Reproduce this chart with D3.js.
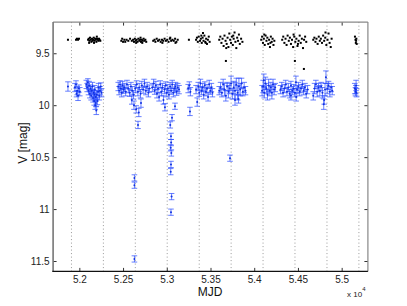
<!DOCTYPE html>
<html><head><meta charset="utf-8">
<script src="https://cdn.jsdelivr.net/npm/d3@7"></script>
<style>body{margin:0;background:#fff}svg{display:block}</style>
</head><body>
<script>
// ---- data ----
const xTicks = [52000, 52500, 53000, 53500, 54000, 54500, 55000];
const xTickLabels = ["5.2", "5.25", "5.3", "5.35", "5.4", "5.45", "5.5"];
const yTicks = [9.5, 10, 10.5, 11, 11.5];
const yTickLabels = ["9.5", "10", "10.5", "11", "11.5"];
const yearStarts = [51910, 52275, 52640, 53005, 53371, 53736, 54101, 54466, 54832, 55197];

const blackMJD = [51870,51962,51973,51985,51996,
 52100,52108,52115,52122,52130,52138,52145,52150,52158,52165,52172,52180,52188,52195,52202,52210,52218,52225,52232,52240,52112,52168,52200,
 52480,52490,52500,52515,52525,52540,52560,52580,52600,52615,52625,52635,52645,52655,52665,52675,52685,52695,52705,52715,52725,52735,52745,52755,52765,52650,52700,52720,
 52845,52860,52870,52885,52900,52915,52930,52945,52960,52975,52990,53005,53020,53035,53050,53065,53080,53095,53110,53125,52950,53040,53100,
 53253,
 53335,53345,53355,53365,53380,53390,53400,53410,53420,53430,53440,53450,53460,53470,53480,53490,53414,53445,53395,
 53600,53612,53625,53638,53650,53660,53672,53685,53695,53705,53715,53725,53735,53745,53755,53765,53775,53785,53795,53805,53815,53825,53835,53850,53865,53680,53760,53676,
 54080,54090,54100,54110,54120,54130,54140,54150,54160,54170,54180,54190,54200,54210,54220,54230,54115,54185,
 54320,54332,54345,54358,54370,54382,54395,54408,54420,54432,54445,54458,54470,54482,54495,54508,54520,54532,54545,54558,54570,54582,54595,54450,54500,54465,54568,
 54675,54688,54700,54712,54725,54738,54750,54762,54775,54788,54800,54812,54825,54838,54850,54862,54875,54885,54815,
 55152,55158,55162,55168,55172,55165];
const blackV = [9.37,9.37,9.36,9.37,9.36,
 9.37,9.36,9.38,9.35,9.37,9.39,9.36,9.38,9.37,9.35,9.38,9.36,9.37,9.39,9.36,9.37,9.38,9.36,9.37,9.38,9.40,9.40,9.34,
 9.38,9.36,9.39,9.37,9.39,9.37,9.38,9.36,9.38,9.37,9.39,9.36,9.38,9.37,9.39,9.36,9.38,9.37,9.39,9.37,9.38,9.36,9.38,9.37,9.39,9.40,9.35,9.40,
 9.38,9.37,9.39,9.36,9.38,9.37,9.39,9.37,9.38,9.36,9.38,9.37,9.39,9.36,9.38,9.37,9.38,9.36,9.39,9.37,9.40,9.35,9.40,
 9.37,
 9.37,9.35,9.39,9.34,9.38,9.36,9.40,9.35,9.38,9.33,9.39,9.36,9.41,9.37,9.34,9.39,9.305,9.40,9.33,
 9.37,9.34,9.40,9.36,9.43,9.33,9.38,9.41,9.35,9.44,9.31,9.37,9.40,9.34,9.42,9.36,9.30,9.39,9.45,9.35,9.38,9.32,9.41,9.36,9.39,9.45,9.33,9.574,
 9.37,9.34,9.40,9.36,9.42,9.33,9.38,9.35,9.41,9.37,9.44,9.34,9.39,9.36,9.42,9.38,9.32,9.40,
 9.37,9.34,9.40,9.36,9.42,9.33,9.38,9.35,9.41,9.37,9.44,9.34,9.39,9.36,9.43,9.38,9.33,9.40,9.36,9.45,9.37,9.34,9.39,9.32,9.41,9.574,9.651,
 9.37,9.35,9.39,9.36,9.41,9.34,9.38,9.36,9.40,9.33,9.38,9.35,9.42,9.37,9.31,9.40,9.44,9.36,9.30,
 9.34,9.37,9.40,9.36,9.41,9.38];

const blueMJD = [51870,51950,51962,51975,51985,51995,52005,51968,
 52080,52090,52098,52105,52112,52120,52128,52135,52142,52150,52157,52163,52170,52176,52182,52188,52194,52200,52207,52214,52220,52228,52236,52245,52255,52190,52175,
 52445,52455,52465,52475,52485,52495,52505,52515,52530,52545,52560,52575,52590,52605,52620,52640,52655,52670,52685,52700,52715,52730,52745,52760,52775,52790,52800,
 52600,52625,52650,52680,52705,52671,52630,52630,52630,
 52835,52850,52862,52875,52888,52900,52912,52925,52938,52950,52962,52975,52988,53000,53012,53025,53038,53050,53062,53075,53088,53100,53112,53125,53140,
 52979,53094,53060,53040,53048,53050,53045,53052,53048,53045,53055,53048,
 53245,53258,53270,53265,53335,53348,53360,53372,53385,53398,53410,53422,53435,53448,53460,53472,53485,53498,53510,53522,
 53600,53615,53630,53645,53660,53675,53690,53705,53720,53735,53750,53765,53780,53795,53810,53825,53840,53855,53870,53885,53900,53723,53780,53820,
 54090,54102,54115,54128,54140,54152,54165,54178,54190,54202,54215,54228,54240,54110,
 54300,54315,54330,54345,54360,54375,54390,54405,54420,54435,54450,54465,54477,54490,54505,54520,54535,54550,54565,54580,54595,54610,54480,54420,
 54675,54690,54705,54720,54735,54750,54765,54780,54795,54800,54810,54820,54835,54850,54865,54880,54892,
 55150,55158,55165,55170,55162];
const blueV = [9.82,9.83,9.80,9.86,9.91,9.84,9.87,9.89,
 9.80,9.83,9.78,9.86,9.81,9.89,9.84,9.91,9.86,9.82,9.93,9.88,9.96,9.85,10.00,9.92,10.05,9.90,9.96,9.87,9.83,9.91,9.86,9.82,9.88,9.98,9.90,
 9.82,9.86,9.80,9.84,9.88,9.81,9.85,9.83,9.87,9.80,9.84,9.88,9.82,9.86,9.90,9.84,9.80,9.87,9.83,9.89,9.81,9.85,9.79,9.86,9.82,9.88,9.84,
 9.95,10.00,10.04,10.07,9.98,10.19,10.70,10.77,11.48,
 9.83,9.79,9.86,9.81,9.89,9.84,9.92,9.80,9.87,9.83,9.95,9.85,9.81,9.88,9.84,9.90,9.82,9.86,9.80,9.88,9.84,9.82,9.87,9.83,9.85,
 10.02,10.01,10.12,10.19,10.30,10.36,10.41,10.46,10.57,10.64,10.88,11.03,
 9.84,9.81,9.87,10.06,9.85,9.97,9.82,9.88,9.79,9.86,9.83,9.90,9.81,9.87,9.84,9.92,9.80,9.86,9.83,9.88,
 9.86,9.83,9.88,9.80,9.85,9.91,9.82,9.87,9.84,9.79,9.89,9.83,9.86,9.80,9.88,9.82,9.85,9.79,9.87,9.83,9.86,10.51,9.95,9.94,
 9.86,9.82,9.88,9.79,9.84,9.90,9.81,9.86,9.83,9.88,9.80,9.85,9.83,9.76,
 9.85,9.82,9.88,9.84,9.80,9.87,9.83,9.89,9.81,9.86,9.84,9.88,9.78,9.85,9.82,9.87,9.84,9.80,9.86,9.83,9.89,9.85,9.92,9.91,
 9.91,9.84,9.80,9.87,9.83,9.86,9.82,9.88,9.99,9.95,9.85,9.73,9.84,9.81,9.87,9.83,9.86,
 9.84,9.87,9.81,9.88,9.85];
const blueErr = [0.045,0.04,0.035,0.04,0.045,0.035,0.04,0.03,
 0.04,0.04,0.035,0.04,0.04,0.04,0.035,0.04,0.04,0.04,0.04,0.035,0.04,0.04,0.04,0.04,0.04,0.04,0.035,0.04,0.04,0.04,0.04,0.035,0.04,0.035,0.04,
 0.04,0.04,0.035,0.04,0.04,0.04,0.035,0.04,0.04,0.04,0.04,0.035,0.04,0.04,0.04,0.04,0.035,0.04,0.04,0.04,0.04,0.035,0.04,0.04,0.04,0.04,0.035,
 0.04,0.04,0.035,0.04,0.04,0.035,0.03,0.03,0.03,
 0.04,0.04,0.035,0.04,0.04,0.04,0.04,0.035,0.04,0.04,0.04,0.04,0.035,0.04,0.04,0.04,0.04,0.035,0.04,0.04,0.04,0.04,0.035,0.04,0.04,
 0.035,0.03,0.03,0.03,0.03,0.03,0.03,0.03,0.03,0.03,0.03,0.03,
 0.04,0.035,0.04,0.04,0.04,0.04,0.04,0.035,0.04,0.04,0.04,0.04,0.035,0.04,0.04,0.04,0.04,0.035,0.04,0.04,
 0.04,0.05,0.04,0.05,0.06,0.05,0.04,0.06,0.05,0.07,0.05,0.06,0.08,0.06,0.07,0.08,0.06,0.05,0.04,0.05,0.04,0.03,0.05,0.04,
 0.05,0.06,0.05,0.06,0.05,0.05,0.06,0.05,0.05,0.06,0.05,0.05,0.04,0.06,
 0.04,0.04,0.04,0.04,0.04,0.04,0.04,0.04,0.04,0.04,0.04,0.04,0.06,0.04,0.04,0.04,0.04,0.04,0.04,0.04,0.04,0.04,0.04,0.04,
 0.04,0.05,0.04,0.05,0.04,0.05,0.04,0.05,0.05,0.04,0.06,0.06,0.05,0.04,0.05,0.04,0.04,
 0.05,0.04,0.05,0.04,0.04];

// ---- layout ----
const W = 407, H = 306;
const L = 53.1, R = 367.9, T = 22.1, B = 271.4;
const font = "'Liberation Sans', Arial, Helvetica, sans-serif";
const blue = "#2a4bff";

const svg = d3.select("body").append("svg").attr("width", W).attr("height", H);
const x = d3.scaleLinear().domain([51700, 55300]).range([L, R]);
const y = d3.scaleLinear().domain([9.2, 11.6]).range([T, B]);

// year grid lines
svg.append("g").selectAll("line").data(yearStarts).join("line")
  .attr("x1", d => x(d)).attr("x2", d => x(d)).attr("y1", T).attr("y2", B)
  .attr("stroke", "#999").attr("stroke-width", 1).attr("stroke-dasharray", "1,2.5");

// blue error bars
const blue_ = blueMJD.map((m, i) => ({m, v: blueV[i], e: blueErr[i]}));
const gb = svg.append("g").attr("stroke", blue).attr("stroke-width", 1).attr("stroke-opacity", 0.7);
const cap = 2.8;
gb.selectAll("path").data(blue_).join("path")
  .attr("fill", "none")
  .attr("d", d => {
    const cx = x(d.m), y0 = y(d.v - d.e), y1 = y(d.v + d.e);
    return `M${cx},${y0}V${y1}M${cx-cap},${y0}H${cx+cap}M${cx-cap},${y1}H${cx+cap}`;
  });
svg.append("g").selectAll("circle").data(blue_).join("circle")
  .attr("cx", d => x(d.m)).attr("cy", d => y(d.v)).attr("r", 1).attr("fill", "#1030e0");

// black points
svg.append("g").selectAll("rect").data(blackMJD.map((m, i) => ({m, v: blackV[i]}))).join("rect")
  .attr("x", d => x(d.m) - 1).attr("y", d => y(d.v) - 1).attr("width", 2).attr("height", 2).attr("fill", "#000");

// axes
const xf = d => xTickLabels[xTicks.indexOf(d)];
const yf = d => yTickLabels[yTicks.indexOf(d)];
const ax = svg.append("g").attr("transform", `translate(0,${B})`)
  .call(d3.axisBottom(x).tickValues(xTicks).tickFormat(xf).tickSize(-3.5).tickPadding(4.5));
const at = svg.append("g").attr("transform", `translate(0,${T})`)
  .call(d3.axisTop(x).tickValues(xTicks).tickFormat("").tickSize(-3.5));
const ay = svg.append("g").attr("transform", `translate(${L},0)`)
  .call(d3.axisLeft(y).tickValues(yTicks).tickFormat(yf).tickSize(-3.5).tickPadding(3.5));
const ar = svg.append("g").attr("transform", `translate(${R},0)`)
  .call(d3.axisRight(y).tickValues(yTicks).tickFormat("").tickSize(-3.5));
[ax, at, ay, ar].forEach(g => {
  g.select(".domain").remove();
  g.selectAll(".tick line").attr("stroke", "#333");
  g.selectAll("text").attr("font-family", font).attr("font-size", 10).attr("fill", "#222");
});

// frame
svg.append("line").attr("x1", L).attr("x2", R).attr("y1", T).attr("y2", T).attr("stroke", "#888").attr("stroke-width", 1.2);
svg.append("line").attr("x1", R).attr("x2", R).attr("y1", T).attr("y2", B).attr("stroke", "#888").attr("stroke-width", 1.2);
svg.append("line").attr("x1", L).attr("x2", L).attr("y1", T).attr("y2", B).attr("stroke", "#777").attr("stroke-width", 1.6);
svg.append("line").attr("x1", L - 0.8).attr("x2", R).attr("y1", B).attr("y2", B).attr("stroke", "#111").attr("stroke-width", 1.4);

// labels
svg.append("text").attr("x", 210).attr("y", 296).attr("text-anchor", "middle")
  .attr("font-family", font).attr("font-size", 12).attr("fill", "#111").text("MJD");
svg.append("text").attr("transform", "translate(27,143) rotate(-90)").attr("text-anchor", "middle")
  .attr("font-family", font).attr("font-size", 12).attr("fill", "#111").text("V [mag]");
const ex = svg.append("text").attr("x", 347).attr("y", 297).attr("font-family", font).attr("font-size", 8).attr("fill", "#222");
ex.append("tspan").text("x 10");
ex.append("tspan").attr("dy", -6).attr("font-size", 6).text("4");
</script>
</body></html>
